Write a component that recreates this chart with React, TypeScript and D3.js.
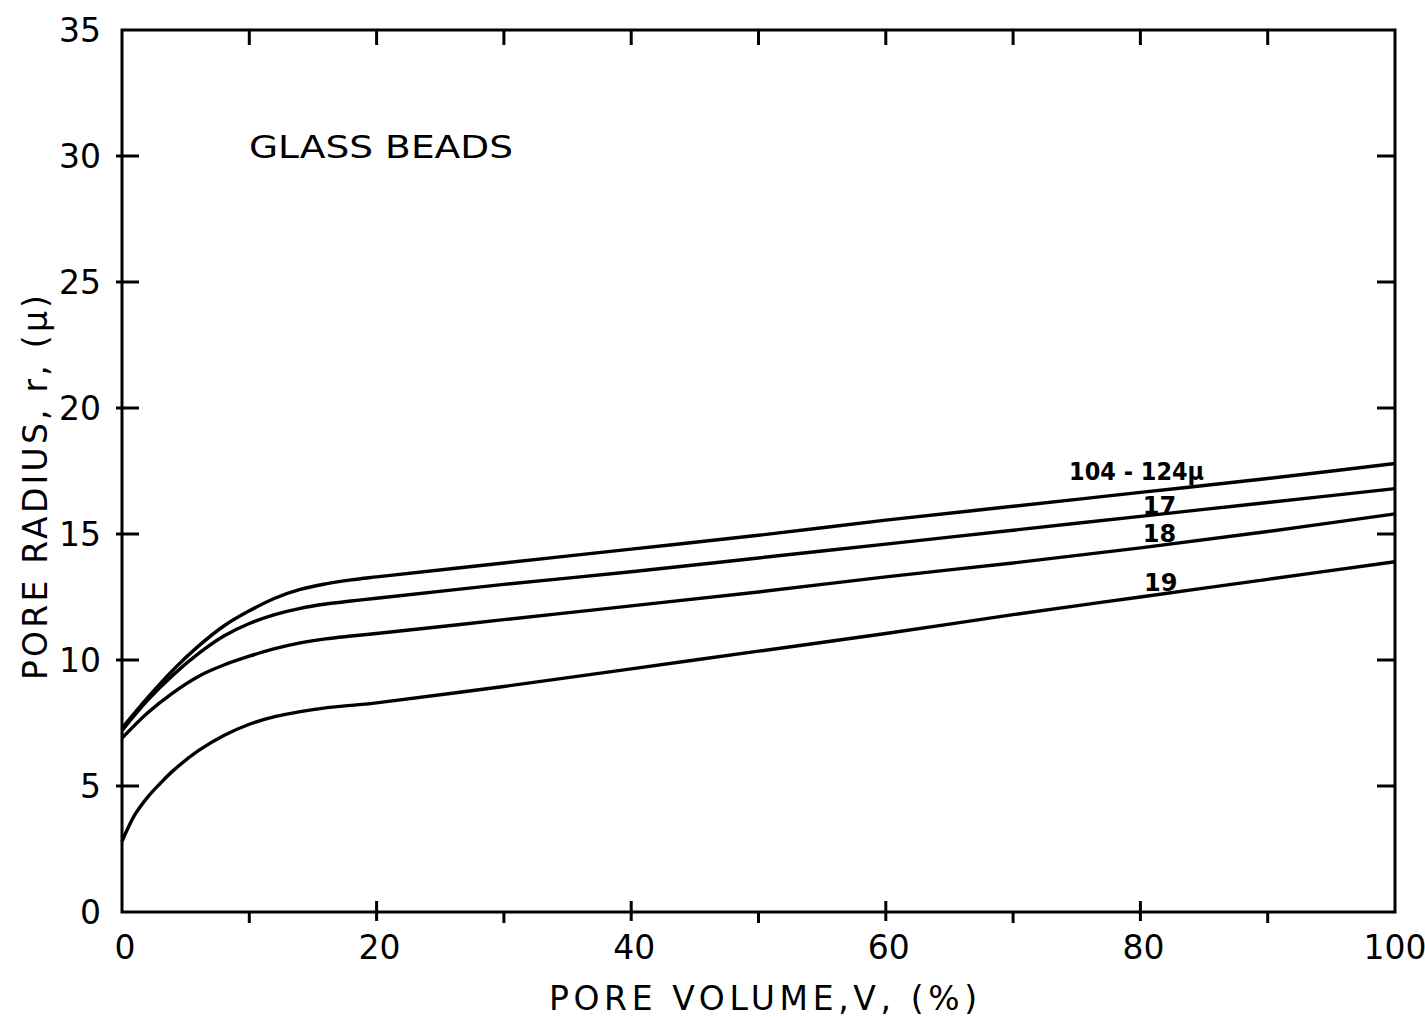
import React from "react";
import * as d3 from "d3";

const xTicksMajor = [0, 20, 40, 60, 80, 100];
const xTicksMinor = [10, 30, 50, 70, 90];
const yTicks = [0, 5, 10, 15, 20, 25, 30, 35];

const volume = [0, 2, 4, 6, 8, 10, 12, 14, 16, 18, 20, 30, 40, 50, 60, 70, 80, 90, 100];
const radius104 = [7.3, 8.5, 9.6, 10.55, 11.35, 11.95, 12.45, 12.8, 13.02, 13.18, 13.3, 13.85, 14.4, 14.95, 15.55, 16.1, 16.65, 17.2, 17.8];
const radius17 = [7.2, 8.4, 9.4, 10.25, 10.95, 11.45, 11.8, 12.05, 12.22, 12.34, 12.45, 13.0, 13.5, 14.05, 14.6, 15.15, 15.7, 16.25, 16.8];
const radius18 = [6.9, 7.9, 8.7, 9.35, 9.8, 10.15, 10.45, 10.68, 10.84, 10.95, 11.05, 11.6, 12.15, 12.7, 13.3, 13.85, 14.45, 15.1, 15.8];
const volume19 = [0, 1, 2, 3, 4, 6, 8, 10, 12, 14, 16, 18, 20, 30, 40, 50, 60, 70, 80, 90, 100];
const radius19 = [2.8, 3.85, 4.55, 5.1, 5.6, 6.4, 7.0, 7.45, 7.75, 7.95, 8.1, 8.2, 8.3, 8.95, 9.65, 10.35, 11.05, 11.8, 12.5, 13.2, 13.9];

const seriesLabels = ["104 - 124\u03bc", "17", "18", "19"];
const labelX = [79.7, 81.5, 81.5, 81.6];
const labelY = [17.5, 16.15, 15.04, 13.1];

const FONT = "'DejaVu Sans', 'Liberation Sans', sans-serif";

export default function App() {
  const W = 1425, H = 1017;
  const x = d3.scaleLinear().domain([0, 100]).range([122, 1395]);
  const y = d3.scaleLinear().domain([0, 35]).range([912, 30]);
  const line = d3
    .line<[number, number]>()
    .x((d) => x(d[0]))
    .y((d) => y(d[1]))
    .curve(d3.curveCatmullRom.alpha(0.5));

  const series: [number, number][][] = [
    volume.map((v, i) => [v, radius104[i]] as [number, number]),
    volume.map((v, i) => [v, radius17[i]] as [number, number]),
    volume.map((v, i) => [v, radius18[i]] as [number, number]),
    volume19.map((v, i) => [v, radius19[i]] as [number, number]),
  ];

  const topTicks = d3.range(10, 100, 10);
  const sideTicks = yTicks.filter((t) => t > 0 && t < 35);

  return (
    <svg
      width={W}
      height={H}
      style={{ position: "fixed", left: 0, top: 0, background: "#fff" }}
      fontFamily={FONT}
    >
      <rect x={0} y={0} width={W} height={H} fill="#fff" />
      <rect
        x={x(0)}
        y={y(35)}
        width={x(100) - x(0)}
        height={y(0) - y(35)}
        fill="none"
        stroke="#000"
        strokeWidth={3}
      />
      {sideTicks.map((t) => (
        <line key={"l" + t} x1={x(0) - 6} x2={x(0) + 17} y1={y(t)} y2={y(t)} stroke="#000" strokeWidth={3} />
      ))}
      {sideTicks.map((t) => (
        <line key={"r" + t} x1={x(100) - 18} x2={x(100)} y1={y(t)} y2={y(t)} stroke="#000" strokeWidth={3} />
      ))}
      {topTicks.map((t) => (
        <line key={"t" + t} x1={x(t)} x2={x(t)} y1={y(35)} y2={y(35) + 15} stroke="#000" strokeWidth={3} />
      ))}
      {xTicksMajor
        .filter((t) => t > 0 && t < 100)
        .map((t) => (
          <line key={"bM" + t} x1={x(t)} x2={x(t)} y1={y(0) - 11} y2={y(0) + 9} stroke="#000" strokeWidth={3} />
        ))}
      {xTicksMinor.map((t) => (
        <line key={"bm" + t} x1={x(t)} x2={x(t)} y1={y(0)} y2={y(0) + 11} stroke="#000" strokeWidth={3} />
      ))}
      {yTicks.map((t) => (
        <text key={"yl" + t} x={101} y={y(t)} dy="0.36em" textAnchor="end" fontSize={33} fill="#000">
          {t}
        </text>
      ))}
      {xTicksMajor.map((t) => (
        <text key={"xl" + t} x={x(t) + (t === 100 ? 0 : 3)} y={959} textAnchor="middle" fontSize={33} fill="#000">
          {t}
        </text>
      ))}
      {series.map((s, i) => (
        <path key={"c" + i} d={line(s) || ""} fill="none" stroke="#000" strokeWidth={3.4} strokeLinejoin="round" />
      ))}
      {seriesLabels.map((lab, i) => (
        <text
          key={"sl" + i}
          x={x(labelX[i])}
          y={y(labelY[i])}
          dy="0.36em"
          textAnchor="middle"
          fontSize={24}
          fontWeight={600}
          fill="#000"
          textLength={i === 0 ? 135 : undefined}
          lengthAdjust="spacingAndGlyphs"
        >
          {lab}
        </text>
      ))}
      <text x={249} y={158} fontSize={32} fill="#000" textLength={264} lengthAdjust="spacingAndGlyphs">
        GLASS BEADS
      </text>
      <text x={549} y={1010} fontSize={33} fill="#000" textLength={428} lengthAdjust="spacing">
        PORE VOLUME,V, (%)
      </text>
      <text
        transform={`translate(47, 680) rotate(-90)`}
        fontSize={33}
        fill="#000"
        textLength={385}
        lengthAdjust="spacing"
      >
        PORE RADIUS, r, (μ)
      </text>
    </svg>
  );
}
